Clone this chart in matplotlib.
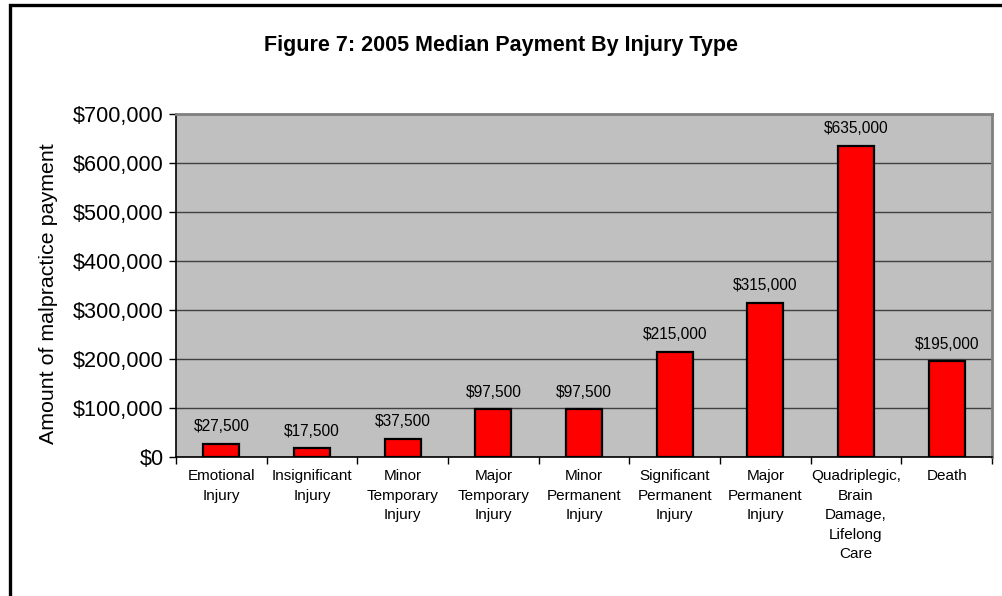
import matplotlib.pyplot as plt
from matplotlib.patches import Rectangle
from matplotlib.ticker import FuncFormatter, FixedLocator

plt.rcParams['font.family'] = ['Liberation Sans', 'DejaVu Sans']

# data
categories = ["Emotional\nInjury", "Insignificant\nInjury", "Minor\nTemporary\nInjury",
              "Major\nTemporary\nInjury", "Minor\nPermanent\nInjury", "Significant\nPermanent\nInjury",
              "Major\nPermanent\nInjury", "Quadriplegic,\nBrain\nDamage,\nLifelong\nCare", "Death"]
payments = [27500, 17500, 37500, 97500, 97500, 215000, 315000, 635000, 195000]
yticks = [0, 100000, 200000, 300000, 400000, 500000, 600000, 700000]

fig = plt.figure(figsize=(10.02, 5.96), dpi=100)
ax = fig.add_axes([176/1002, 139/596, 816/1002, 343/596])
ax.set_facecolor('#C0C0C0')

x = list(range(len(categories)))
ax.bar(x, payments, width=0.4, color='#FF0000', edgecolor='black', linewidth=1.6, zorder=3)

for xi, v in zip(x, payments):
    ax.annotate("${:,}".format(v), (xi, v), xytext=(0, 7), textcoords='offset points',
                ha='center', va='bottom', fontsize=11.2, zorder=4)

ax.set_xlim(-0.5, len(categories) - 0.5)
ax.set_ylim(0, 700000)
ax.set_yticks(yticks)
ax.yaxis.set_major_formatter(FuncFormatter(lambda v, p: "${:,.0f}".format(v)))
ax.tick_params(axis='y', labelsize=15.6, length=5, width=1, direction='out', pad=4)
ax.grid(axis='y', color='#404040', linewidth=1, zorder=1)

# ticks between categories, labels centred
ax.xaxis.set_major_locator(FixedLocator([i - 0.5 for i in range(len(categories) + 1)]))
ax.xaxis.set_major_formatter(FuncFormatter(lambda v, p: ""))
ax.tick_params(axis='x', length=5, width=1, direction='out')
for xi, lbl in zip(x, categories):
    ax.text(xi, -0.035, lbl, transform=ax.get_xaxis_transform(), ha='center', va='top',
            fontsize=11, linespacing=1.5)

for s in ['top', 'right']:
    ax.spines[s].set_color('#808080')
    ax.spines[s].set_linewidth(2)
for s in ['left', 'bottom']:
    ax.spines[s].set_color('black')
    ax.spines[s].set_linewidth(1.2)

ax.set_ylabel("Amount of malpractice payment", fontsize=15.4)
ax.yaxis.set_label_coords(-118/816, 0.475)

fig.text(501/1002, 1 - 45/596, "Figure 7: 2005 Median Payment By Injury Type",
         ha='center', va='center', fontsize=15.5, fontweight='bold')

# outer chart border (cut off at right and bottom)
fig.patches.append(Rectangle((10/1002, -0.05), 1.1, 1.05 - 5/596, transform=fig.transFigure,
                             fill=False, edgecolor='black', linewidth=2.4))

fig.savefig("out.png", dpi=100)
